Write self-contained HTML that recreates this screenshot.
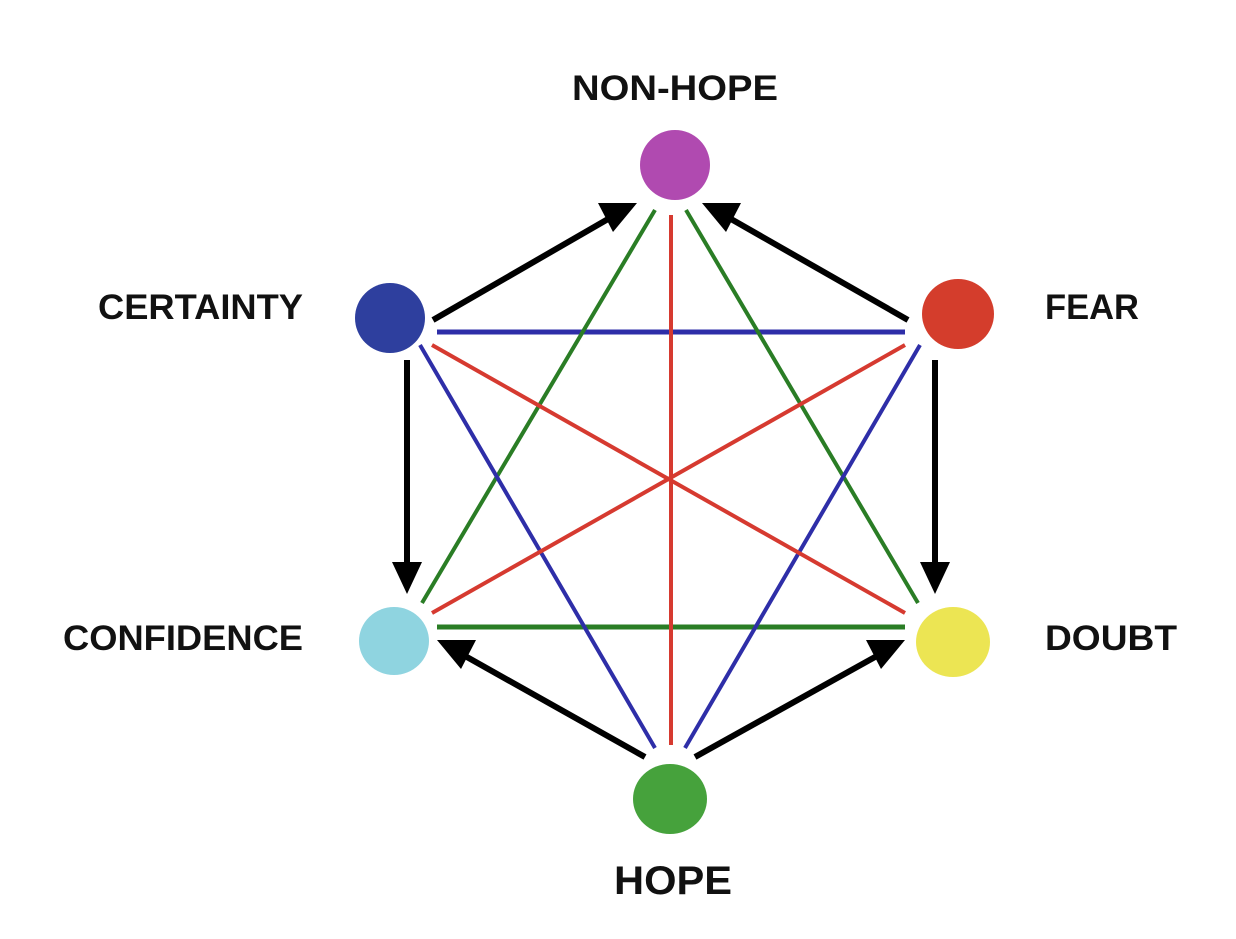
<!DOCTYPE html>
<html><head><meta charset="utf-8"><style>html,body{margin:0;padding:0;background:#fff}</style></head>
<body>
<svg width="1236" height="934" viewBox="0 0 1236 934" xmlns="http://www.w3.org/2000/svg">
<g stroke-width="4" fill="none">
<line x1="437" y1="332" x2="905" y2="332" stroke="#2e2ea8" stroke-width="5"/>
<line x1="437" y1="627" x2="905" y2="627" stroke="#2a7d25" stroke-width="5"/>
<line x1="655" y1="210" x2="422" y2="603" stroke="#2a7d25"/>
<line x1="686" y1="210" x2="918" y2="603" stroke="#2a7d25"/>
<line x1="655" y1="748" x2="420" y2="345" stroke="#2e2ea8"/>
<line x1="685" y1="748" x2="920" y2="345" stroke="#2e2ea8"/>
<line x1="671" y1="215" x2="671" y2="745" stroke="#d63a30"/>
<line x1="432" y1="345" x2="905" y2="613" stroke="#d63a30"/>
<line x1="905" y1="345" x2="432" y2="613" stroke="#d63a30"/>
</g>
<g stroke="#000" stroke-width="6" fill="#000">
<line x1="433" y1="320" x2="615" y2="215"/><polygon points="637,203 598,203 613,232" stroke="none"/>
<line x1="908" y1="320" x2="724" y2="215"/><polygon points="702,203 741,203 726,232" stroke="none"/>
<line x1="407" y1="360" x2="407" y2="570"/><polygon points="407,594 392,562 422,562" stroke="none"/>
<line x1="935" y1="360" x2="935" y2="570"/><polygon points="935,594 920,562 950,562" stroke="none"/>
<line x1="645" y1="757" x2="458" y2="652"/><polygon points="437,640 476,640 461,669" stroke="none"/>
<line x1="695" y1="757" x2="884" y2="652"/><polygon points="905,640 866,640 881,669" stroke="none"/>
</g>
<ellipse cx="675" cy="165" rx="35" ry="35" fill="#b04ab0"/>
<ellipse cx="390" cy="318" rx="35" ry="35" fill="#2e3f9e"/>
<ellipse cx="958" cy="314" rx="36" ry="35" fill="#d43d2c"/>
<ellipse cx="394" cy="641" rx="35" ry="34" fill="#8fd4e0"/>
<ellipse cx="953" cy="642" rx="37" ry="35" fill="#ece553"/>
<ellipse cx="670" cy="799" rx="37" ry="35" fill="#46a23c"/>
<g font-family="Liberation Sans, sans-serif" font-weight="bold" font-size="35" fill="#111">
<text x="675" y="100" text-anchor="middle" textLength="206" lengthAdjust="spacingAndGlyphs">NON-HOPE</text>
<text x="98" y="319" textLength="205" lengthAdjust="spacingAndGlyphs">CERTAINTY</text>
<text x="1045" y="319" textLength="94" lengthAdjust="spacingAndGlyphs">FEAR</text>
<text x="63" y="650" textLength="240" lengthAdjust="spacingAndGlyphs">CONFIDENCE</text>
<text x="1045" y="650" textLength="132" lengthAdjust="spacingAndGlyphs">DOUBT</text>
<text x="673" y="894" text-anchor="middle" font-size="40" textLength="118" lengthAdjust="spacingAndGlyphs">HOPE</text>
</g>
</svg>
</body></html>
